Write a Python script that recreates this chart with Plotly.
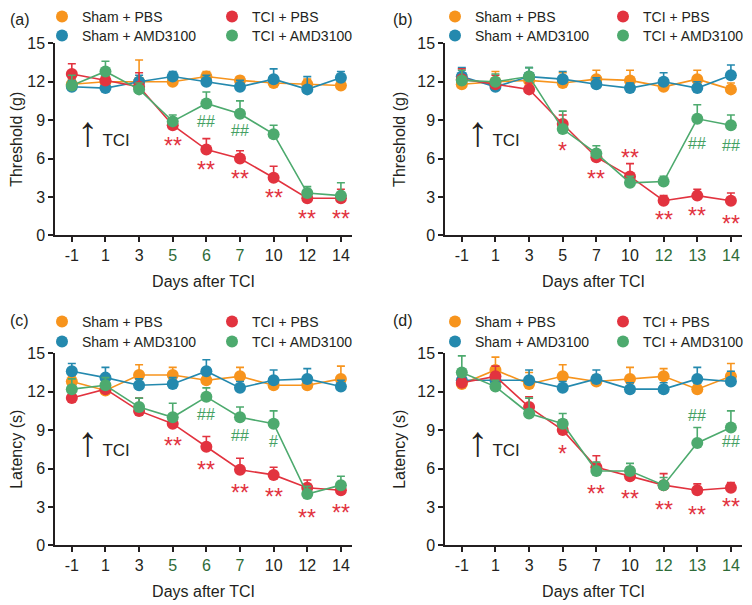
import plotly.graph_objects as go

# ---------------- data ----------------
days_ac = ["-1", "1", "3", "5", "6", "7", "10", "12", "14"]
days_bd = ["-1", "1", "3", "5", "7", "10", "12", "13", "14"]
green_ticks_ac = ["5", "6", "7"]
green_ticks_bd = ["12", "13", "14"]

series_names = ["Sham + PBS", "Sham + AMD3100", "TCI + PBS", "TCI + AMD3100"]

# panel (a) threshold
sham_pbs_a = [11.8, 12.0, 12.0, 12.0, 12.4, 12.1, 11.9, 11.8, 11.7]
sham_pbs_a_err = [0.4, 0.4, 1.7, 0.3, 0.4, 0.3, 0.4, 0.4, 0.3]
sham_amd_a = [11.6, 11.5, 12.0, 12.4, 12.0, 11.6, 12.2, 11.4, 12.3]
sham_amd_a_err = [0.5, 0.6, 0.5, 0.4, 0.5, 0.5, 0.8, 1.0, 0.5]
tci_pbs_a = [12.6, 12.1, 11.6, 8.6, 6.7, 6.0, 4.5, 2.9, 2.9]
tci_pbs_a_err = [0.8, 0.4, 1.1, 0.3, 0.85, 0.6, 0.9, 0.4, 0.7]
tci_amd_a = [11.7, 12.8, 11.4, 8.9, 10.3, 9.5, 7.9, 3.3, 3.1]
tci_amd_a_err = [0.8, 0.8, 0.5, 0.5, 0.9, 1.0, 0.7, 0.5, 1.0]

# panel (b) threshold
sham_pbs_b = [11.8, 12.0, 12.1, 11.9, 12.2, 12.1, 11.6, 12.2, 11.4]
sham_pbs_b_err = [0.8, 0.8, 0.6, 0.8, 0.7, 0.8, 0.5, 0.7, 0.5]
sham_amd_b = [12.4, 11.6, 12.4, 12.2, 11.8, 11.5, 12.0, 11.5, 12.5]
sham_amd_b_err = [0.7, 0.6, 0.7, 0.6, 0.5, 0.4, 0.7, 0.5, 0.8]
tci_pbs_b = [12.2, 11.8, 11.4, 8.7, 6.1, 4.6, 2.7, 3.1, 2.7]
tci_pbs_b_err = [0.8, 0.7, 0.5, 0.7, 0.5, 1.0, 0.4, 0.5, 0.6]
tci_amd_b = [12.1, 12.0, 12.4, 8.3, 6.4, 4.1, 4.2, 9.1, 8.6]
tci_amd_b_err = [0.8, 0.6, 0.7, 1.4, 0.6, 0.5, 0.4, 1.1, 0.8]

# panel (c) latency
sham_pbs_c = [12.8, 12.1, 13.3, 13.3, 12.9, 13.2, 12.5, 12.5, 13.0]
sham_pbs_c_err = [0.4, 0.4, 0.8, 0.6, 0.5, 0.7, 0.4, 0.4, 1.0]
sham_amd_c = [13.6, 13.1, 12.5, 12.6, 13.6, 12.3, 12.9, 13.0, 12.4]
sham_amd_c_err = [0.6, 0.8, 0.5, 0.5, 0.9, 0.5, 0.8, 0.8, 0.5]
tci_pbs_c = [11.5, 12.2, 10.5, 9.5, 7.7, 5.9, 5.5, 4.5, 4.3]
tci_pbs_c_err = [0.5, 0.4, 1.0, 0.5, 0.8, 0.9, 0.6, 0.6, 0.4]
tci_amd_c = [12.2, 12.5, 10.8, 10.0, 11.6, 10.0, 9.5, 4.0, 4.7]
tci_amd_c_err = [0.8, 0.6, 0.7, 1.1, 0.7, 0.8, 1.0, 0.6, 0.7]

# panel (d) latency
sham_pbs_d = [12.6, 13.7, 12.6, 13.2, 12.8, 13.0, 13.2, 12.2, 13.2]
sham_pbs_d_err = [0.4, 1.0, 0.9, 0.9, 0.5, 0.9, 0.6, 0.4, 1.0]
sham_amd_d = [12.9, 12.9, 12.9, 12.3, 13.0, 12.2, 12.2, 13.0, 12.8]
sham_amd_d_err = [0.5, 0.5, 0.8, 0.5, 0.7, 0.5, 0.5, 0.9, 0.8]
tci_pbs_d = [12.7, 13.2, 10.8, 9.0, 6.1, 5.4, 4.7, 4.3, 4.5]
tci_pbs_d_err = [0.5, 0.8, 0.8, 0.8, 0.9, 0.7, 0.9, 0.5, 0.4]
tci_amd_d = [13.5, 12.4, 10.3, 9.5, 5.8, 5.8, 4.7, 8.0, 9.2]
tci_amd_d_err = [1.3, 0.5, 1.2, 0.8, 0.7, 0.6, 0.6, 1.2, 1.3]

# significance marks (category index, y value, label)
sig_red_a_idx = [3, 4, 5, 6, 7, 8]
sig_red_a_y = [7.43, 5.56, 4.88, 3.39, 1.77, 1.77]
sig_red_a_txt = ["**", "**", "**", "**", "**", "**"]
sig_grn_a_idx = [4, 5]
sig_grn_a_y = [8.87, 8.22]
sig_grn_a_txt = ["##", "##"]

sig_red_b_idx = [3, 4, 5, 6, 7, 8]
sig_red_b_y = [7.04, 4.88, 6.52, 1.64, 1.96, 1.38]
sig_red_b_txt = ["*", "**", "**", "**", "**", "**"]
sig_grn_b_idx = [7, 8]
sig_grn_b_y = [7.17, 6.99]
sig_grn_b_txt = ["##", "##"]

sig_red_c_idx = [3, 4, 5, 6, 7, 8]
sig_red_c_y = [8.22, 6.39, 4.57, 4.25, 2.61, 3.0]
sig_red_c_txt = ["**", "**", "**", "**", "**", "**"]
sig_grn_c_idx = [4, 5, 6]
sig_grn_c_y = [10.23, 8.61, 8.09]
sig_grn_c_txt = ["##", "##", "#"]

sig_red_d_idx = [3, 4, 5, 6, 7, 8]
sig_red_d_y = [7.57, 4.44, 4.10, 3.26, 2.82, 3.44]
sig_red_d_txt = ["*", "**", "**", "**", "**", "**"]
sig_grn_d_idx = [7, 8]
sig_grn_d_y = [10.17, 8.09]
sig_grn_d_txt = ["##", "##"]

y_ticks = [0, 3, 6, 9, 12, 15]

# ---------------- styles ----------------
FONT = "Liberation Sans, Arial, Helvetica, sans-serif"
INK = "#231f20"
C_ORANGE = "#F7941D"
C_BLUE = "#2489AE"
C_RED = "#E2333F"
C_GREEN = "#4DAA6E"
C_SIGGREEN = "#44A063"
C_TICKGREEN = "#2E6B38"
series_colors = [C_ORANGE, C_BLUE, C_RED, C_GREEN]

W, H = 752, 605
OFF = 8  # default body margin of the html page


def px_x(p):
    return (p - OFF) / W


def px_y(p):
    return 1 - (p - OFF) / H


panels = [
    dict(letter="(a)", days=days_ac, gt=green_ticks_ac, ytitle="Threshold (g)",
         vals=[sham_pbs_a, sham_amd_a, tci_pbs_a, tci_amd_a],
         errs=[sham_pbs_a_err, sham_amd_a_err, tci_pbs_a_err, tci_amd_a_err],
         red=(sig_red_a_idx, sig_red_a_y, sig_red_a_txt), grn=(sig_grn_a_idx, sig_grn_a_y, sig_grn_a_txt),
         xd=(55, 352), yd=(43.3, 235.3), rows=(15, 34), lety=19, lx=(42, 212), letx=8),
    dict(letter="(b)", days=days_bd, gt=green_ticks_bd, ytitle="Threshold (g)",
         vals=[sham_pbs_b, sham_amd_b, tci_pbs_b, tci_amd_b],
         errs=[sham_pbs_b_err, sham_amd_b_err, tci_pbs_b_err, tci_amd_b_err],
         red=(sig_red_b_idx, sig_red_b_y, sig_red_b_txt), grn=(sig_grn_b_idx, sig_grn_b_y, sig_grn_b_txt),
         xd=(445, 742), yd=(43.3, 235.3), rows=(15, 34), lety=19, lx=(435, 603), letx=391),
    dict(letter="(c)", days=days_ac, gt=green_ticks_ac, ytitle="Latency (s)",
         vals=[sham_pbs_c, sham_amd_c, tci_pbs_c, tci_amd_c],
         errs=[sham_pbs_c_err, sham_amd_c_err, tci_pbs_c_err, tci_amd_c_err],
         red=(sig_red_c_idx, sig_red_c_y, sig_red_c_txt), grn=(sig_grn_c_idx, sig_grn_c_y, sig_grn_c_txt),
         xd=(55, 352), yd=(353.3, 545.3), rows=(320, 340), lety=320, lx=(42, 212), letx=8),
    dict(letter="(d)", days=days_bd, gt=green_ticks_bd, ytitle="Latency (s)",
         vals=[sham_pbs_d, sham_amd_d, tci_pbs_d, tci_amd_d],
         errs=[sham_pbs_d_err, sham_amd_d_err, tci_pbs_d_err, tci_amd_d_err],
         red=(sig_red_d_idx, sig_red_d_y, sig_red_d_txt), grn=(sig_grn_d_idx, sig_grn_d_y, sig_grn_d_txt),
         xd=(445, 742), yd=(353.3, 545.3), rows=(320, 340), lety=320, lx=(435, 603), letx=391),
]

fig = go.Figure()
layout = dict(
    width=W, height=H, margin=dict(l=0, r=0, t=0, b=0, autoexpand=False),
    paper_bgcolor="white", plot_bgcolor="white",
    font=dict(family=FONT, color=INK, size=16),
    showlegend=True,
)
annotations = []
legend_count = 0
# legend entry layout: (series index, column, row)
legend_slots = [(0, 0, 0), (2, 1, 0), (1, 0, 1), (3, 1, 1)]

for pi, p in enumerate(panels):
    n = pi + 1
    xa = "xaxis" if n == 1 else f"xaxis{n}"
    ya = "yaxis" if n == 1 else f"yaxis{n}"
    xr = "x" if n == 1 else f"x{n}"
    yr = "y" if n == 1 else f"y{n}"

    ticktext = [f"<span style='color:{C_TICKGREEN}'>{d}</span>" if d in p["gt"] else d for d in p["days"]]
    layout[xa] = dict(
        domain=[px_x(p["xd"][0]), px_x(p["xd"][1])], anchor=yr,
        type="category", categoryorder="array", categoryarray=p["days"],
        tickmode="array", tickvals=p["days"], ticktext=ticktext,
        range=[-0.5, 8.33], showline=True, linecolor=INK, linewidth=1.5,
        ticks="outside", ticklen=5, tickwidth=1.5, tickcolor=INK,
        tickfont=dict(size=16, color=INK), showgrid=False, zeroline=False,
        title=dict(text="Days after TCI", font=dict(size=16, color=INK), standoff=13),
        fixedrange=True,
    )
    layout[ya] = dict(
        domain=[px_y(p["yd"][1]), px_y(p["yd"][0])], anchor=xr,
        range=[0, 15], tickmode="array", tickvals=y_ticks,
        showline=True, linecolor=INK, linewidth=1.5,
        ticks="outside", ticklen=5, tickwidth=1.5, tickcolor=INK,
        tickfont=dict(size=16, color=INK), showgrid=False, zeroline=False,
        title=dict(text=p["ytitle"], font=dict(size=16, color=INK), standoff=8),
        fixedrange=True,
    )

    # data traces
    for si in range(4):
        col = series_colors[si]
        fig.add_trace(go.Scatter(
            x=p["days"], y=p["vals"][si], xaxis=xr, yaxis=yr,
            mode="lines+markers", name=series_names[si], showlegend=False,
            line=dict(color=col, width=1.6),
            marker=dict(color=col, size=12, line=dict(width=0)),
            error_y=dict(type="data", symmetric=False, array=p["errs"][si],
                         arrayminus=[0] * len(p["errs"][si]),
                         color=col, thickness=1.6, width=4),
            cliponaxis=False,
        ))

    # legend: one single-entry legend per slot, laid out in 2 columns x 2 rows
    for si, colm, row in legend_slots:
        legend_count += 1
        lname = "legend" if legend_count == 1 else f"legend{legend_count}"
        fig.add_trace(go.Scatter(
            x=[None], y=[None], xaxis=xr, yaxis=yr, mode="markers",
            name=series_names[si], legend=lname, showlegend=True,
            marker=dict(color=series_colors[si], size=12),
        ))
        center_y = p["rows"][row]
        layout[lname] = dict(
            x=px_x(p["lx"][colm]), y=px_y(center_y - 14), xanchor="left", yanchor="top",
            orientation="v", bgcolor="rgba(0,0,0,0)", borderwidth=0,
            font=dict(size=14, color=INK), itemsizing="trace",
        )

    # panel letter
    annotations.append(dict(
        xref="paper", yref="paper", x=px_x(p["letx"]), y=px_y(p["lety"]),
        xanchor="left", yanchor="middle", text=p["letter"], showarrow=False,
        font=dict(size=16, color=INK),
    ))

    # TCI arrow label
    annotations.append(dict(
        xref=xr, yref=yr, x=0.1, y=8.1, xanchor="left", yanchor="middle",
        text="↑<span style='font-size:17px'> TCI</span>", showarrow=False,
        font=dict(size=42, color=INK),
    ))

    # significance marks
    for idxs, ys, txts, colr in [(*p["red"], C_RED), (*p["grn"], C_SIGGREEN)]:
        for ix, yv, t in zip(idxs, ys, txts):
            star = "*" in t
            annotations.append(dict(
                xref=xr, yref=yr, x=ix, y=yv, text=t, showarrow=False,
                xanchor="center", yanchor="middle",
                yshift=-6 if star else 0,
                font=dict(size=23 if star else 16, color=colr),
            ))

layout["annotations"] = annotations
fig.update_layout(**layout)
fig.write_html("out.html")
